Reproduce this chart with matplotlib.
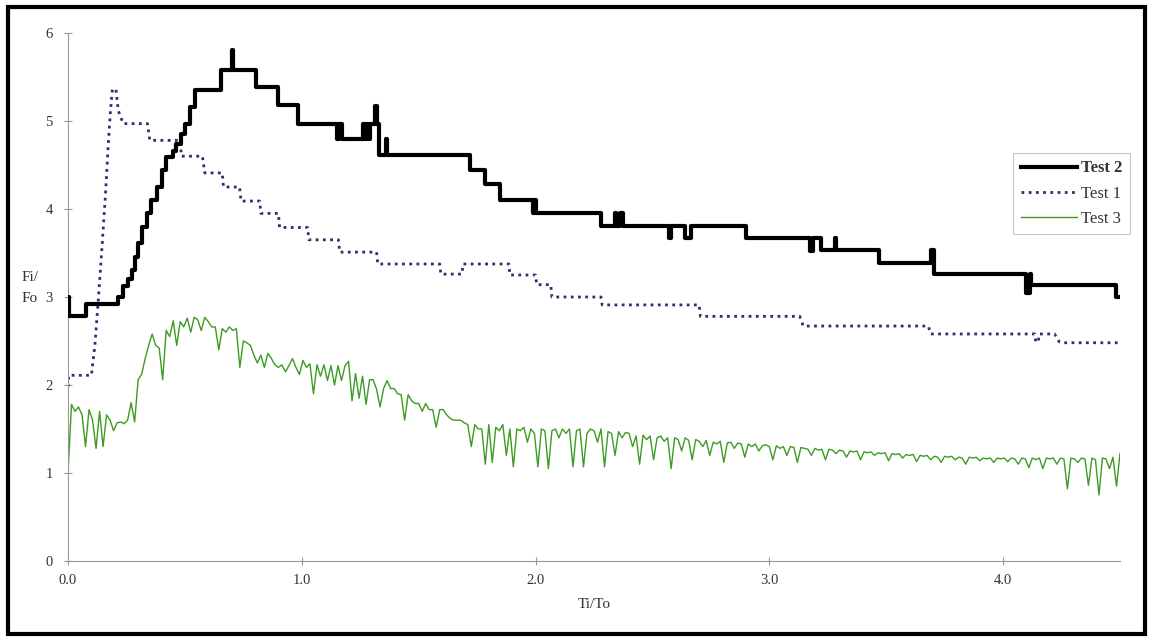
import numpy as np
import matplotlib
matplotlib.use("Agg")
import matplotlib.pyplot as plt
from matplotlib.patches import Rectangle

plt.rcParams['font.family'] = ['Liberation Serif', 'DejaVu Serif']

# Test 2: step levels (x where level starts, level)
test2_x = [0.000, 0.005, 0.077, 0.215, 0.235, 0.255, 0.272, 0.286, 0.300, 0.315,
           0.336, 0.357, 0.379, 0.400, 0.421, 0.450, 0.464, 0.485, 0.500, 0.520,
           0.542, 0.656, 0.700, 0.704, 0.805, 0.898, 0.983, 1.150, 1.160, 1.170,
           1.260, 1.270, 1.275, 1.285, 1.290, 1.312, 1.322, 1.332, 1.360, 1.365,
           1.720, 1.785, 1.850, 1.990, 1.995, 2.000, 2.280, 2.340, 2.345, 2.360,
           2.375, 2.570, 2.580, 2.640, 2.665, 2.900, 3.175, 3.185, 3.220, 3.280,
           3.285, 3.470, 3.690, 3.705, 4.100, 4.115, 4.120, 4.485, 4.500]
test2_y = [3.00, 2.78, 2.92, 3.00, 3.12, 3.20, 3.31, 3.46, 3.61, 3.80,
           3.95, 4.10, 4.25, 4.44, 4.59, 4.66, 4.74, 4.85, 4.97, 5.16,
           5.35, 5.58, 5.81, 5.58, 5.39, 5.18, 4.97, 4.79, 4.97, 4.79,
           4.97, 4.80, 4.97, 4.80, 4.97, 5.17, 4.97, 4.61, 4.80, 4.61,
           4.44, 4.28, 4.10, 3.95, 4.10, 3.95, 3.81, 3.95, 3.81, 3.95,
           3.81, 3.67, 3.81, 3.67, 3.81, 3.67, 3.52, 3.67, 3.53, 3.67,
           3.53, 3.39, 3.53, 3.26, 3.05, 3.26, 3.14, 3.00, 3.00]

# Test 1: polyline (rise then steps)
test1_x = [0.000, 0.003, 0.100, 0.115, 0.130, 0.145, 0.160, 0.172, 0.182, 0.190,
           0.205, 0.215, 0.236, 0.340, 0.350, 0.480, 0.485, 0.575, 0.585, 0.660,
           0.665, 0.734, 0.740, 0.820, 0.825, 0.900, 0.905, 1.025, 1.030, 1.157,
           1.162, 1.320, 1.325, 1.590, 1.595, 1.685, 1.690, 1.886, 1.890, 2.000,
           2.005, 2.065, 2.070, 2.280, 2.285, 2.700, 2.705, 3.130, 3.145, 3.680,
           3.690, 4.135, 4.140, 4.150, 4.155, 4.220, 4.240, 4.255, 4.500]
test1_y = [1.98, 2.11, 2.11, 2.45, 2.98, 3.55, 4.15, 4.72, 5.13, 5.36,
           5.36, 5.12, 4.97, 4.97, 4.78, 4.78, 4.60, 4.60, 4.41, 4.41,
           4.25, 4.25, 4.09, 4.09, 3.95, 3.95, 3.79, 3.79, 3.65, 3.65,
           3.51, 3.51, 3.375, 3.375, 3.26, 3.26, 3.375, 3.375, 3.25, 3.25,
           3.14, 3.14, 3.00, 3.00, 2.91, 2.91, 2.78, 2.78, 2.67, 2.67,
           2.58, 2.58, 2.49, 2.49, 2.58, 2.58, 2.49, 2.48, 2.48]

# Test 3: sampled every 0.015 in Ti/To from 0 to 4.5
test3_y = [
    1.00, 1.78, 1.70, 1.75, 1.66, 1.30, 1.72, 1.60, 1.28, 1.70,
    1.30, 1.66, 1.60, 1.48, 1.57, 1.58, 1.56, 1.60, 1.80, 1.58,
    2.06, 2.12, 2.30, 2.45, 2.58, 2.45, 2.42, 2.06, 2.62, 2.55,
    2.73, 2.45, 2.72, 2.66, 2.76, 2.60, 2.77, 2.74, 2.62, 2.77,
    2.72, 2.66, 2.66, 2.40, 2.64, 2.60, 2.66, 2.62, 2.64, 2.20,
    2.50, 2.48, 2.45, 2.34, 2.25, 2.34, 2.20, 2.36, 2.30, 2.23,
    2.20, 2.23, 2.15, 2.22, 2.30, 2.20, 2.12, 2.28, 2.20, 2.24,
    1.90, 2.23, 2.10, 2.23, 2.05, 2.22, 2.00, 2.22, 2.05, 2.22,
    2.27, 1.82, 2.13, 1.85, 2.10, 1.78, 2.06, 2.06, 1.95, 1.75,
    1.96, 2.05, 1.96, 1.96, 1.90, 1.89, 1.60, 1.89, 1.82, 1.79,
    1.79, 1.70, 1.79, 1.72, 1.72, 1.52, 1.72, 1.72, 1.66, 1.62,
    1.60, 1.60, 1.60, 1.57, 1.55, 1.30, 1.55, 1.50, 1.50, 1.10,
    1.55, 1.12, 1.52, 1.48, 1.55, 1.20, 1.50, 1.07, 1.50, 1.48,
    1.52, 1.35, 1.50, 1.45, 1.07, 1.50, 1.48, 1.05, 1.48, 1.50,
    1.40, 1.50, 1.45, 1.50, 1.07, 1.48, 1.50, 1.07, 1.45, 1.50,
    1.48, 1.35, 1.50, 1.07, 1.47, 1.45, 1.20, 1.47, 1.40, 1.46,
    1.45, 1.30, 1.42, 1.10, 1.43, 1.38, 1.42, 1.15, 1.40, 1.42,
    1.36, 1.40, 1.05, 1.40, 1.38, 1.25, 1.40, 1.37, 1.15, 1.38,
    1.36, 1.30, 1.37, 1.20, 1.35, 1.33, 1.36, 1.12, 1.34, 1.35,
    1.28, 1.34, 1.33, 1.18, 1.33, 1.30, 1.33, 1.25, 1.31, 1.32,
    1.30, 1.15, 1.31, 1.28, 1.30, 1.20, 1.30, 1.29, 1.12, 1.29,
    1.28, 1.27, 1.20, 1.28, 1.26, 1.27, 1.15, 1.27, 1.26, 1.22,
    1.26, 1.25, 1.18, 1.25, 1.24, 1.25, 1.15, 1.24, 1.23, 1.24,
    1.20, 1.23, 1.22, 1.23, 1.14, 1.22, 1.21, 1.22, 1.17, 1.21,
    1.20, 1.21, 1.13, 1.20, 1.19, 1.20, 1.15, 1.19, 1.18, 1.12,
    1.19, 1.18, 1.19, 1.15, 1.18, 1.17, 1.10, 1.18, 1.17, 1.18,
    1.14, 1.17, 1.16, 1.17, 1.12, 1.17, 1.16, 1.17, 1.13, 1.17,
    1.16, 1.10, 1.17, 1.16, 1.06, 1.17, 1.15, 1.17, 1.05, 1.17,
    1.16, 1.17, 1.10, 1.17, 1.16, 0.82, 1.17, 1.16, 1.12, 1.17,
    1.16, 0.86, 1.17, 1.15, 0.75, 1.17, 1.16, 1.05, 1.18, 0.85,
    1.22]
test3_x = np.arange(len(test3_y)) * 0.015

xticks = [0.0, 1.0, 2.0, 3.0, 4.0]
yticks = [0, 1, 2, 3, 4, 5, 6]

fig = plt.figure(figsize=(11.5, 6.37), dpi=100)
ax = fig.add_axes([68 / 1150, 1 - 561 / 637, (1120 - 68) / 1150, (561 - 33) / 637])

ax.plot(test2_x, test2_y, drawstyle='steps-post', color='black', lw=3.0,
        label='Test 2', zorder=3)
ax.plot(test1_x, test1_y, color='#2e2d6e', lw=2.0, linestyle=(0, (1.0, 1.6)),
        label='Test 1', zorder=2)
ax.plot(test3_x, test3_y, color='#3c9b23', lw=1.0, label='Test 3', zorder=1)

ax.set_xlim(0, 4.5)
ax.set_ylim(0, 6)
ax.set_xticks(xticks)
ax.set_xticklabels([f"{t:.1f}" for t in xticks])
ax.set_yticks(yticks)
ax.set_yticklabels([str(t) for t in yticks])

for s in ['top', 'right']:
    ax.spines[s].set_visible(False)
for s in ['left', 'bottom']:
    ax.spines[s].set_color('#999999')
    ax.spines[s].set_linewidth(0.8)
ax.tick_params(axis='both', direction='inout', length=6, width=0.8,
               color='#999999', labelcolor='#333333', labelsize=10.5)
ax.tick_params(axis='x', pad=6)
ax.tick_params(axis='y', pad=8)

ax.set_xlabel('Ti/To', fontsize=11, color='#333333', labelpad=8)
fig.text(22 / 1150, 1 - 277 / 637, 'Fi/', fontsize=11, color='#333333', va='center')
fig.text(22 / 1150, 1 - 298 / 637, 'Fo', fontsize=11, color='#333333', va='center')

leg = ax.legend(loc='upper left', bbox_to_anchor=((1013 - 68) / 1052, (561 - 153) / 528),
                fontsize=12, frameon=True, fancybox=False, handlelength=3.4,
                borderpad=0.45, labelspacing=0.55, handletextpad=0.25, borderaxespad=0)
leg.get_frame().set_edgecolor('#bbbbbb')
leg.get_frame().set_linewidth(0.8)
for t in leg.get_texts():
    t.set_color('#333333')
leg.get_texts()[0].set_fontweight('bold')

fig.patches.append(Rectangle((8 / 1150, 3 / 637), 1137 / 1150, 627 / 637,
                             transform=fig.transFigure, fill=False,
                             edgecolor='black', linewidth=3.0))

fig.savefig('out.png', dpi=100)
